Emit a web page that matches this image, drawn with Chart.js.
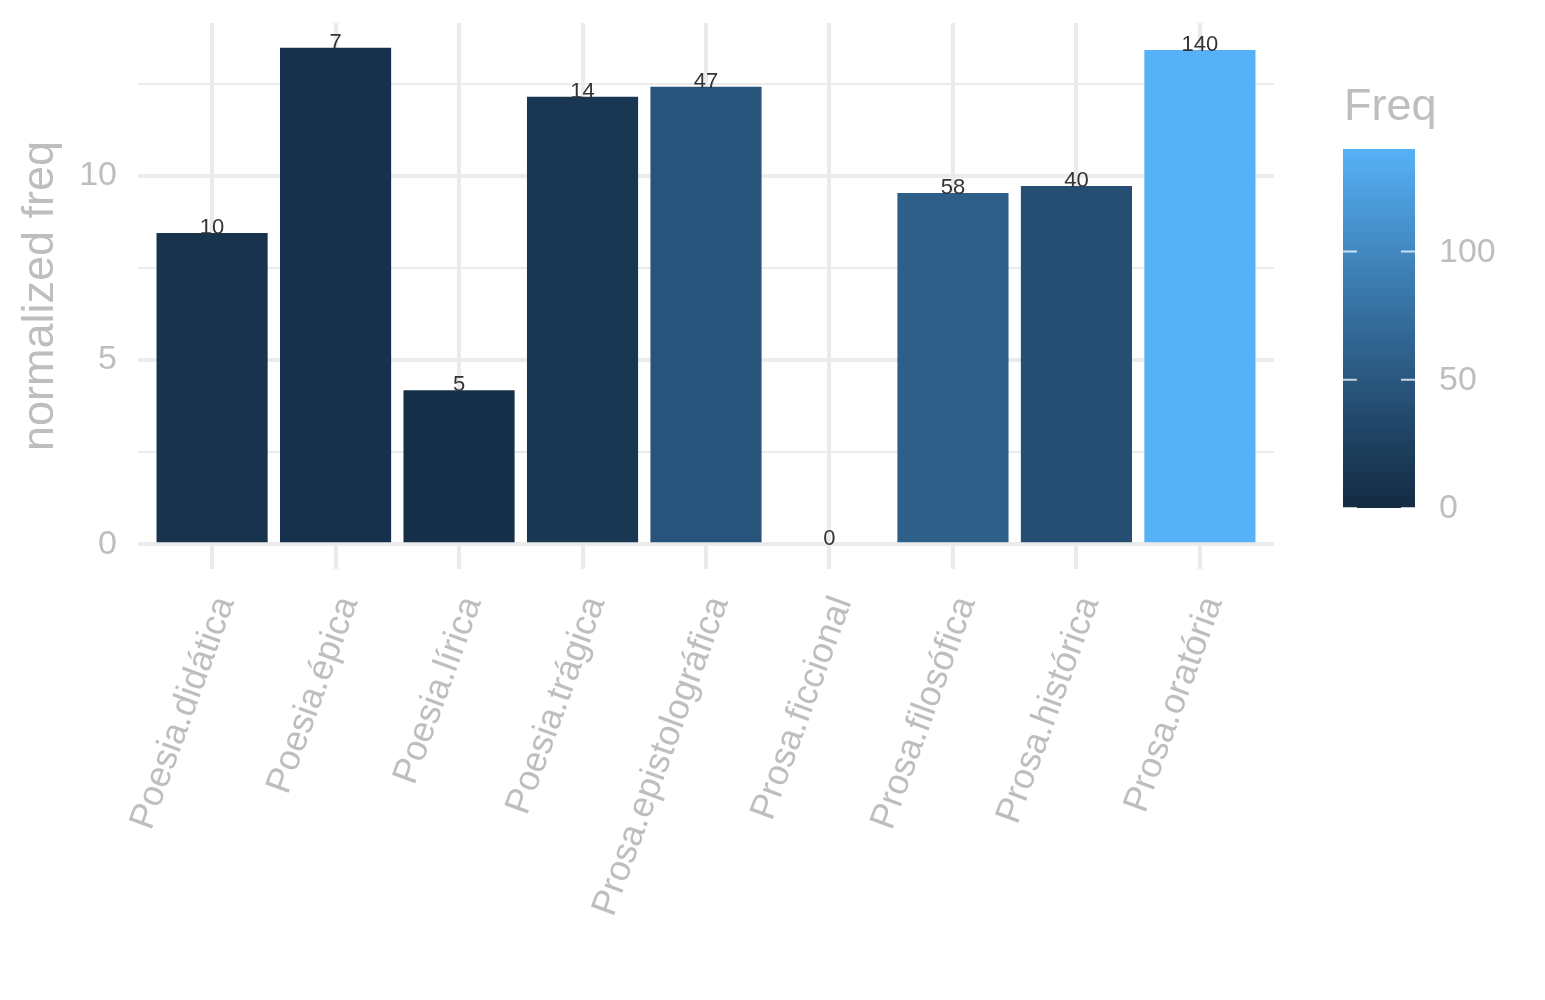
<!DOCTYPE html>
<html>
<head>
<meta charset="utf-8">
<script src="https://cdn.jsdelivr.net/npm/chart.js@4.4.1/dist/chart.umd.min.js"></script>
<style>
  html, body { margin: 0; padding: 0; background: #ffffff; }
  #wrap { width: 1545px; height: 1000px; }
</style>
</head>
<body>
<div id="wrap"><canvas id="chart" width="1545" height="1000"></canvas></div>
<script>
const categories = ['Poesia.didática', 'Poesia.épica', 'Poesia.lírica', 'Poesia.trágica',
  'Prosa.epistolográfica', 'Prosa.ficcional', 'Prosa.filosófica', 'Prosa.histórica', 'Prosa.oratória'];
const normFreq = [8.45, 13.48, 4.18, 12.15, 12.42, 0, 9.54, 9.73, 13.42];
const freq = [10, 7, 5, 14, 47, 0, 58, 40, 140];
const yMajorTicks = [0, 5, 10];
const yMinorTicks = [2.5, 7.5, 12.5];
const legendTicks = [0, 50, 100];
const freqRange = [0, 140];

const GREY = '#bebebe';
const GRID = '#ebebeb';
const FONT = '"Liberation Sans", Arial, Helvetica, sans-serif';

// ggplot-like low/high gradient, interpolated in Lab
function hexRgb(h) {
  return [1, 3, 5].map(i => parseInt(h.substr(i, 2), 16) / 255);
}
function toLab(rgb) {
  const lin = rgb.map(c => c <= 0.04045 ? c / 12.92 : Math.pow((c + 0.055) / 1.055, 2.4));
  let x = (lin[0] * 0.4124 + lin[1] * 0.3576 + lin[2] * 0.1805) / 0.95047;
  let y = (lin[0] * 0.2126 + lin[1] * 0.7152 + lin[2] * 0.0722);
  let z = (lin[0] * 0.0193 + lin[1] * 0.1192 + lin[2] * 0.9505) / 1.08883;
  const f = t => t > 0.008856 ? Math.cbrt(t) : 7.787 * t + 16 / 116;
  x = f(x); y = f(y); z = f(z);
  return [116 * y - 16, 500 * (x - y), 200 * (y - z)];
}
function fromLab(lab) {
  let y = (lab[0] + 16) / 116, x = lab[1] / 500 + y, z = y - lab[2] / 200;
  const fi = t => t * t * t > 0.008856 ? t * t * t : (t - 16 / 116) / 7.787;
  x = fi(x) * 0.95047; y = fi(y); z = fi(z) * 1.08883;
  const lin = [x * 3.2406 + y * -1.5372 + z * -0.4986,
               x * -0.9689 + y * 1.8758 + z * 0.0415,
               x * 0.0557 + y * -0.2040 + z * 1.0570];
  const c = lin.map(v => v <= 0.0031308 ? 12.92 * v : 1.055 * Math.pow(v, 1 / 2.4) - 0.055)
    .map(v => Math.round(Math.min(1, Math.max(0, v)) * 255));
  return 'rgb(' + c.join(',') + ')';
}
const lowLab = toLab(hexRgb('#132B43'));
const highLab = toLab(hexRgb('#56B1F7'));
function fillFor(v) {
  const t = (v - freqRange[0]) / (freqRange[1] - freqRange[0]);
  return fromLab(lowLab.map((l, i) => l + (highLab[i] - l) * t));
}

const barLabels = {
  id: 'barLabels',
  afterDatasetsDraw(chart) {
    const ctx = chart.ctx;
    const meta = chart.getDatasetMeta(0);
    ctx.save();
    ctx.font = '22px ' + FONT;
    ctx.fillStyle = '#333333';
    ctx.textAlign = 'center';
    ctx.textBaseline = 'alphabetic';
    meta.data.forEach((bar, i) => {
      ctx.fillText(String(freq[i]), bar.x, bar.y + 1);
    });
    ctx.restore();
  }
};

const colorbar = {
  id: 'colorbar',
  afterDraw(chart) {
    const ctx = chart.ctx;
    const x0 = 1343, w = 72, top = 149, bottom = 508;
    const grad = ctx.createLinearGradient(0, bottom, 0, top);
    for (let k = 0; k <= 20; k++) {
      grad.addColorStop(k / 20, fillFor(freqRange[0] + (freqRange[1] - freqRange[0]) * k / 20));
    }
    ctx.save();
    ctx.fillStyle = grad;
    ctx.fillRect(x0, top, w, bottom - top);
    ctx.strokeStyle = 'rgba(255,255,255,0.75)';
    ctx.lineWidth = 2;
    ctx.font = '34px ' + FONT;
    ctx.fillStyle = GREY;
    ctx.textAlign = 'left';
    ctx.textBaseline = 'middle';
    legendTicks.forEach(t => {
      const y = bottom - (t - freqRange[0]) / (freqRange[1] - freqRange[0]) * (bottom - top);
      ctx.beginPath();
      ctx.moveTo(x0, y); ctx.lineTo(x0 + 14, y);
      ctx.moveTo(x0 + w - 14, y); ctx.lineTo(x0 + w, y);
      ctx.stroke();
      ctx.fillText(String(t), 1439, y + 1);
    });
    ctx.font = '45px ' + FONT;
    ctx.textBaseline = 'alphabetic';
    ctx.fillText('Freq', 1344, 120);
    ctx.restore();
  }
};

new Chart(document.getElementById('chart'), {
  type: 'bar',
  data: {
    datasets: [{
      data: normFreq.map((v, i) => ({ x: i + 1, y: v })),
      backgroundColor: freq.map(fillFor),
      borderWidth: 0,
      barPercentage: 0.9,
      categoryPercentage: 1.0
    }]
  },
  options: {
    responsive: false,
    animation: false,
    devicePixelRatio: 1,
    layout: { padding: { left: 0, right: 271, top: 23, bottom: 0 } },
    plugins: { legend: { display: false }, tooltip: { enabled: false } },
    scales: {
      x: {
        type: 'linear',
        min: 0.4,
        max: 9.6,
        offset: false,
        afterBuildTicks: axis => { axis.ticks = categories.map((c, i) => ({ value: i + 1 })); },
        afterFit: axis => { axis.height = 431; axis.paddingLeft = 0; axis.paddingRight = 0; },
        border: { display: false },
        grid: { color: GRID, lineWidth: 4, drawTicks: false, tickLength: 0, offset: false },
        ticks: {
          autoSkip: false,
          minRotation: 70,
          maxRotation: 70,
          padding: 22,
          labelOffset: 13,
          color: GREY,
          font: { family: FONT, size: 36 },
          callback: v => categories[v - 1]
        }
      },
      y: {
        min: -0.674,
        max: 14.154,
        afterBuildTicks: axis => {
          axis.ticks = yMajorTicks.concat(yMinorTicks).sort((a, b) => a - b).map(v => ({ value: v }));
        },
        afterFit: axis => { axis.width = 138; axis.paddingTop = 0; axis.paddingBottom = 0; },
        border: { display: false },
        grid: {
          color: GRID,
          drawTicks: false,
          tickLength: 0,
          lineWidth: c => (c.tick && yMajorTicks.includes(c.tick.value)) ? 4 : 2
        },
        ticks: {
          padding: 21,
          color: GREY,
          font: { family: FONT, size: 34 },
          callback: v => yMajorTicks.includes(v) ? String(v) : ''
        },
        title: {
          display: true,
          text: 'normalized freq',
          color: GREY,
          font: { family: FONT, size: 45 },
          padding: { top: 14, bottom: 0 }
        }
      }
    }
  },
  plugins: [barLabels, colorbar]
});
</script>
</body>
</html>
